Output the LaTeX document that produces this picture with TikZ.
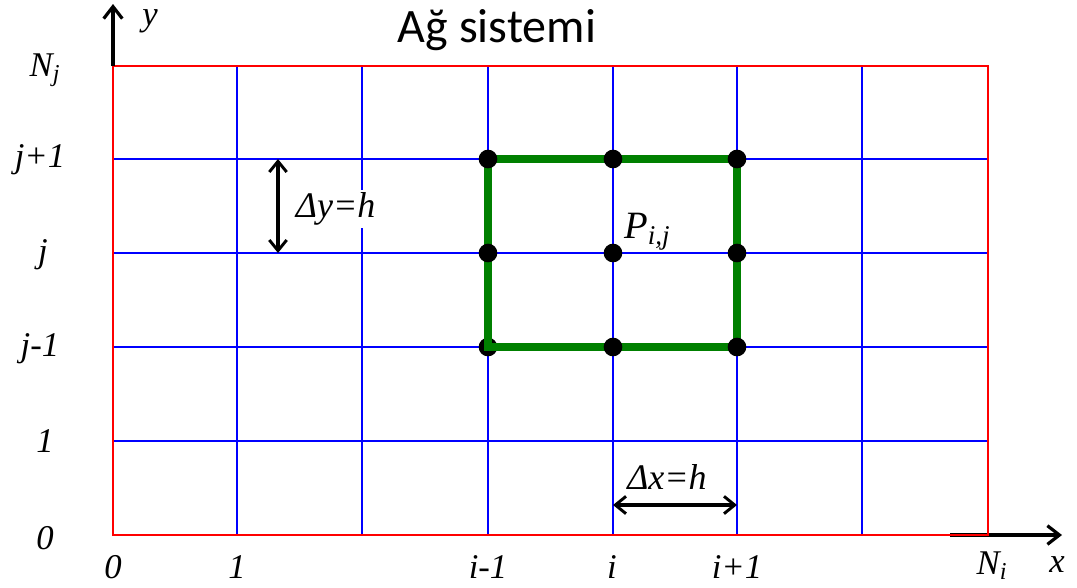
\documentclass[tikz,border=0pt]{standalone}
\usepackage{fontspec}
\setmainfont{Liberation Serif}
\newfontfamily\lblfont{Liberation Serif}
\newfontfamily\titlefont{Carlito}
\usetikzlibrary{arrows.meta}
\begin{document}
\begin{tikzpicture}[x=0.75pt,y=-0.75pt,
  redline/.style={red,line width=1.5pt},
  blueline/.style={blue,line width=1.4pt},
  greenline/.style={green!50!black,line width=5.5pt,line join=miter},
  axisarrow/.style={black,line width=3.5pt,-{Straight Barb[length=9pt,width=14pt,line width=2.4pt]}},
  dimarrow/.style={black,line width=2.6pt,{Straight Barb[length=8pt,width=13pt,line width=2.2pt]}-{Straight Barb[length=8pt,width=13pt,line width=2.2pt]}},
  lbl/.style={font=\lblfont\itshape\fontsize{26}{30}\selectfont,inner sep=0pt},
  dot/.style={circle,fill=black,inner sep=0pt,minimum size=14pt}]
\useasboundingbox (0,0) rectangle (1077,587);
% grid coordinates
\foreach \n/\x in {0/113,1/237,2/362,3/488,4/613,5/737,6/862,7/988}{\coordinate (x\n) at (\x,0);}
\foreach \n/\y in {0/535,1/441,2/347,3/253,4/159,5/66}{\coordinate (y\n) at (0,\y);}
% blue lines
\foreach \n in {1,...,6}{\draw[blueline] (x\n |- y0) -- (x\n |- y5);}
\foreach \n in {1,...,4}{\draw[blueline] (x0 |- y\n) -- (x7 |- y\n);}
% red border
\draw[redline] (x0 |- y0) rectangle (x7 |- y5);
% axes
\coordinate (ytip) at (113,4);
\coordinate (xstart) at (950,535);
\coordinate (xtip) at (1062,535);
\draw[axisarrow] (x0 |- y5) -- (ytip);
\draw[axisarrow] (xstart) -- (xtip);
\draw[redline] (xstart) -- (x7 |- y0) -- (x7 |- y1);
% stencil
\node[dot] (p32) at (x3 |- y2) {};
\draw[greenline] (x3 |- y4) rectangle (x5 |- y2);
\node[dot] (p34) at (x3 |- y4) {};
\node[dot] (p44) at (x4 |- y4) {};
\node[dot] (p54) at (x5 |- y4) {};
\node[dot] (p33) at (x3 |- y3) {};
\node[dot] (p43) at (x4 |- y3) {};
\node[dot] (p53) at (x5 |- y3) {};
\node[dot] (p42) at (x4 |- y2) {};
\node[dot] (p52) at (x5 |- y2) {};
\node[lbl,font=\lblfont\itshape\fontsize{29}{32}\selectfont,anchor=south west] (P) at (624,251) {P\textsubscript{i,j}};
% dimension arrows
\coordinate (dya) at (278,159);
\coordinate (dyb) at (278,253);
\draw[dimarrow] (dya) -- (dyb);
\node[lbl,font=\lblfont\itshape\fontsize{27}{30}\selectfont,fill=white,inner sep=2pt,anchor=west] (dyl) at (293,209) {Δy=h};
\coordinate (dxa) at (613,505);
\coordinate (dxb) at (737,505);
\draw[dimarrow] (dxa) -- (dxb);
\node[lbl,font=\lblfont\itshape\fontsize{27}{30}\selectfont] (dxl) at (667,477) {Δx=h};
% title
\node[font=\titlefont\fontsize{36}{40}\selectfont,inner sep=0pt] (title) at (497,30) {Ağ sistemi};
% axis labels
\node[lbl] (ly) at (150,21) {y};
\node[lbl] (lx) at (1057,565) {x};
\node[lbl] (lNj) at (45,70) {N\textsubscript{j}};
\node[lbl] (ljp) at (40,160) {j+1};
\node[lbl] (lj) at (43,255) {j};
\node[lbl] (ljm) at (40,349) {j-1};
\node[lbl] (l1y) at (45,441) {1};
\node[lbl] (l0y) at (45,538) {0};
\node[lbl] (l0x) at (113,567) {0};
\node[lbl] (l1x) at (237,567) {1};
\node[lbl] (lim) at (488,567) {i-1};
\node[lbl] (li) at (612,567) {i};
\node[lbl] (lip) at (737,567) {i+1};
\node[lbl] (lNi) at (992,566) {N\textsubscript{i}};
\end{tikzpicture}
\end{document}
